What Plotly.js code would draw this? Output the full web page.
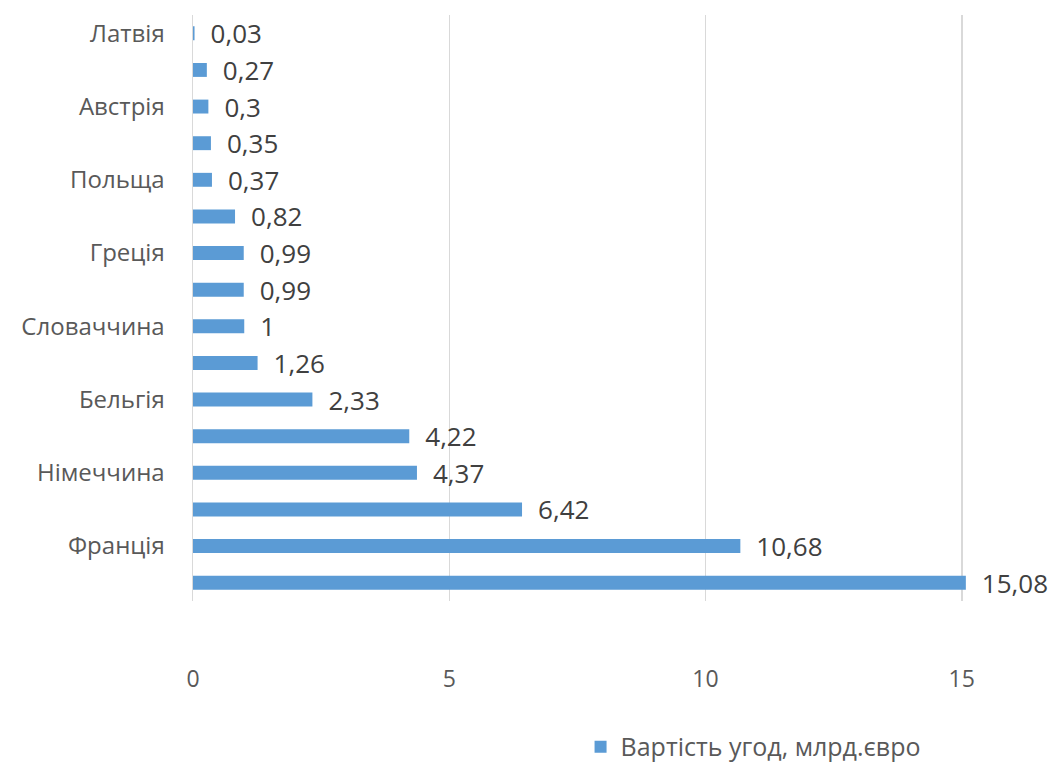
<!DOCTYPE html>
<html>
<head>
<meta charset="utf-8">
<script src="https://cdn.plot.ly/plotly-3.0.1.min.js"></script>
<style>html,body{margin:0;padding:0;background:#fff;}#chart{width:1060px;height:762px;}</style>
</head>
<body>
<div id="chart"></div>
<script>
// Categories top to bottom (empty = label not shown in the original)
const categories = ["Латвія","","Австрія","","Польща","","Греція","","Словаччина","","Бельгія","","Німеччина","","Франція",""];
const values = [0.03,0.27,0.3,0.35,0.37,0.82,0.99,0.99,1,1.26,2.33,4.22,4.37,6.42,10.68,15.08];
const seriesName = "Вартість угод, млрд.євро";
const xTicks = [0,5,10,15];

const positions = categories.map((c,i)=>i);
const labelTickVals = positions.filter(i=>categories[i] !== "");
const labelTickText = labelTickVals.map(i=>categories[i]);
const textLabels = values.map(v=>'\u2002' + String(v).replace('.', ','));

const font = "'Open Sans', sans-serif";

const trace = {
  type: 'bar',
  orientation: 'h',
  x: values,
  y: positions,
  name: seriesName,
  marker: {color: '#5B9BD5'},
  text: textLabels,
  textposition: 'outside',
  constraintext: 'none',
  textfont: {family: font, size: 26, color: '#404040'},
  cliponaxis: false,
  hoverinfo: 'x+name'
};

const layout = {
  width: 1060,
  height: 762,
  margin: {l: 193, r: 47, t: 15, b: 161, autoexpand: false},
  paper_bgcolor: '#ffffff',
  plot_bgcolor: '#ffffff',
  bargap: 0.62,
  showlegend: true,
  legend: {
    orientation: 'h',
    x: 0.683, xanchor: 'center',
    y: -0.249, yanchor: 'middle',
    font: {family: font, size: 25, color: '#595959'}
  },
  xaxis: {
    range: [0, 16],
    tickvals: xTicks,
    ticktext: xTicks.map(String),
    showgrid: true,
    gridcolor: '#d9d9d9',
    gridwidth: 1.5,
    zeroline: false,
    showline: false,
    ticks: '',
    automargin: false,
    ticklabelstandoff: 62,
    tickfont: {family: font, size: 23, color: '#595959'},
    fixedrange: true
  },
  yaxis: {
    range: [15.5, -0.5],
    tickvals: labelTickVals,
    ticktext: labelTickText,
    showgrid: false,
    zeroline: false,
    showline: true,
    linecolor: '#d9d9d9',
    linewidth: 1.5,
    ticks: '',
    automargin: false,
    ticklabelstandoff: 22,
    tickfont: {family: font, size: 24, color: '#595959'},
    fixedrange: true
  },
  font: {family: font, color: '#595959'}
};

Plotly.newPlot('chart', [trace], layout, {displayModeBar: false, staticPlot: true});
</script>
</body>
</html>
